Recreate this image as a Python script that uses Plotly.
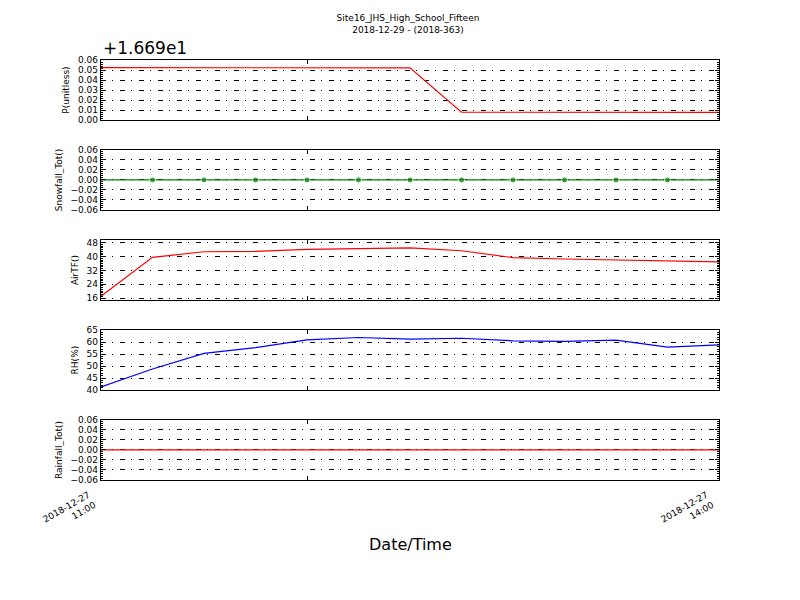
"""
Multi-panel weather station time series (matplotlib-like look) in Plotly.
"""

import plotly.graph_objects as go

# ── Data ─────────────────────────────────────────────────────────────────────

times = [
    "2018-12-27 11:00", "2018-12-27 11:15", "2018-12-27 11:30", "2018-12-27 11:45",
    "2018-12-27 12:00", "2018-12-27 12:15", "2018-12-27 12:30", "2018-12-27 12:45",
    "2018-12-27 13:00", "2018-12-27 13:15", "2018-12-27 13:30", "2018-12-27 13:45",
    "2018-12-27 14:00",
]

pressure = [16.7423, 16.7422, 16.7422, 16.7425, 16.7422, 16.7422, 16.7422,
            16.6978, 16.6977, 16.6977, 16.6978, 16.6979, 16.6977]
p_offset = 16.69
p_ticks = [0.00, 0.01, 0.02, 0.03, 0.04, 0.05, 0.06]

snowfall = [0.0] * 13
air_temp = [17.0, 39.6, 42.8, 43.0, 44.2, 44.8, 45.1, 43.4, 39.4, 38.6, 38.1, 37.3, 36.9]
rh = [41.3, 48.8, 55.3, 57.7, 60.9, 61.9, 61.2, 61.6, 60.5, 60.3, 60.8, 57.9, 58.8]
rainfall = [0.0] * 13

zero_ticks = [-0.06, -0.04, -0.02, 0.0, 0.02, 0.04, 0.06]
temp_ticks = [16, 24, 32, 40, 48]
rh_ticks = [40, 45, 50, 55, 60, 65]

x_tickvals = ["2018-12-27 11:00", "2018-12-27 12:00", "2018-12-27 14:00"]
x_labels = {"2018-12-27 11:00": "2018-12-27<br>11:00",
            "2018-12-27 14:00": "2018-12-27<br>14:00"}

# ── Styling ──────────────────────────────────────────────────────────────────

FONT = "DejaVu Sans, sans-serif"
GRID_DASH = "5px,6px,1px,7px"
DOMAINS = [
    [0.857, 1.0],
    [0.643, 0.786],
    [0.429, 0.571],
    [0.214, 0.357],
    [0.0, 0.143],
]

# snowfall end markers sit under the frame in the original
snow_marker_size = [0] + [6] * 11 + [0]


def minus(v):
    return f"{v:.2f}".replace("-", "\u2212")


panels = [
    dict(y=pressure, color="#ff0000", mode="lines", title="P(unitless)",
         rng=[16.69, 16.75], tickvals=[p_offset + t for t in p_ticks],
         ticktext=[f"{t:.2f}" for t in p_ticks], minor=0.002, msize=5),
    dict(y=snowfall, color="#008000", mode="lines+markers", title="Snowfall_Tot()",
         rng=[-0.06, 0.06], tickvals=zero_ticks,
         ticktext=[minus(t) for t in zero_ticks], minor=0.004, msize=snow_marker_size),
    dict(y=air_temp, color="#ff0000", mode="lines", title="AirTF()",
         rng=[15.0, 49.5], tickvals=temp_ticks,
         ticktext=[str(t) for t in temp_ticks], minor=1, msize=5),
    dict(y=rh, color="#0000ff", mode="lines", title="RH(%)",
         rng=[40, 65], tickvals=rh_ticks,
         ticktext=[str(t) for t in rh_ticks], minor=1, msize=5),
    dict(y=rainfall, color="#ff0000", mode="lines", title="Rainfall_Tot()",
         rng=[-0.06, 0.06], tickvals=zero_ticks,
         ticktext=[minus(t) for t in zero_ticks], minor=0.004, msize=5),
]

fig = go.Figure()
layout = {}
for i, p in enumerate(panels):
    n = "" if i == 0 else str(i + 1)
    fig.add_trace(go.Scatter(
        x=times, y=p["y"], mode=p["mode"],
        line=dict(color=p["color"], width=1.2),
        marker=dict(color=p["color"], size=p["msize"]),
        xaxis="x" + n, yaxis="y" + n, showlegend=False,
    ))
    layout["xaxis" + n] = dict(
        domain=[0, 1], anchor="y" + n, type="date",
        range=[times[0], times[-1]],
        tickvals=x_tickvals, showticklabels=False,
        ticks="inside", ticklen=4, tickcolor="black",
        showline=True, linecolor="black", linewidth=1.3, mirror="allticks",
        showgrid=False, zeroline=False,
        matches=None if i == 0 else "x",
    )
    layout["yaxis" + n] = dict(
        domain=DOMAINS[i], anchor="x" + n, range=p["rng"],
        tickvals=p["tickvals"], ticktext=p["ticktext"],
        ticks="inside", ticklen=4, tickcolor="black",
        minor=dict(ticks="inside", ticklen=2, dtick=p["minor"], tickcolor="black", showgrid=False),
        showline=True, linecolor="black", linewidth=1.3, mirror="allticks",
        showgrid=True, gridcolor="black", griddash=GRID_DASH, gridwidth=0.5,
        zeroline=False,
        tickfont=dict(size=9, color="black"),
        title=dict(text=p["title"], font=dict(size=9, color="black"), standoff=6),
    )

# rotated, right-aligned date labels under the bottom panel (matplotlib style)
annotations = [
    dict(x=t, y=0, xref="x5", yref="paper", xanchor="right", yanchor="top",
         yshift=-6, text=label, showarrow=False, textangle=-30, align="right",
         font=dict(size=9, color="black"))
    for t, label in x_labels.items()
]
annotations += [
    dict(x=0, y=1.0, xref="paper", yref="paper", xanchor="left", yanchor="bottom",
         text="+1.669e1", showarrow=False, font=dict(size=17, color="black")),
    dict(x=0.5, y=0, xref="paper", yref="paper", xanchor="center", yanchor="middle",
         yshift=-64, text="Date/Time", showarrow=False,
         font=dict(size=16, color="black")),
]

# page body adds an 8px offset, so margins are trimmed to compensate
fig.update_layout(
    **layout,
    width=800, height=600,
    margin=dict(l=93, r=89, t=52, b=128),
    paper_bgcolor="white", plot_bgcolor="white",
    font=dict(family=FONT, color="black"),
    title=dict(
        text="Site16_JHS_High_School_Fifteen<br>2018-12-29 - (2018-363)",
        x=0.5, xanchor="center", y=0.978, yanchor="top",
        font=dict(size=9, color="black"),
    ),
    annotations=annotations,
)

fig.write_html("out.html")
